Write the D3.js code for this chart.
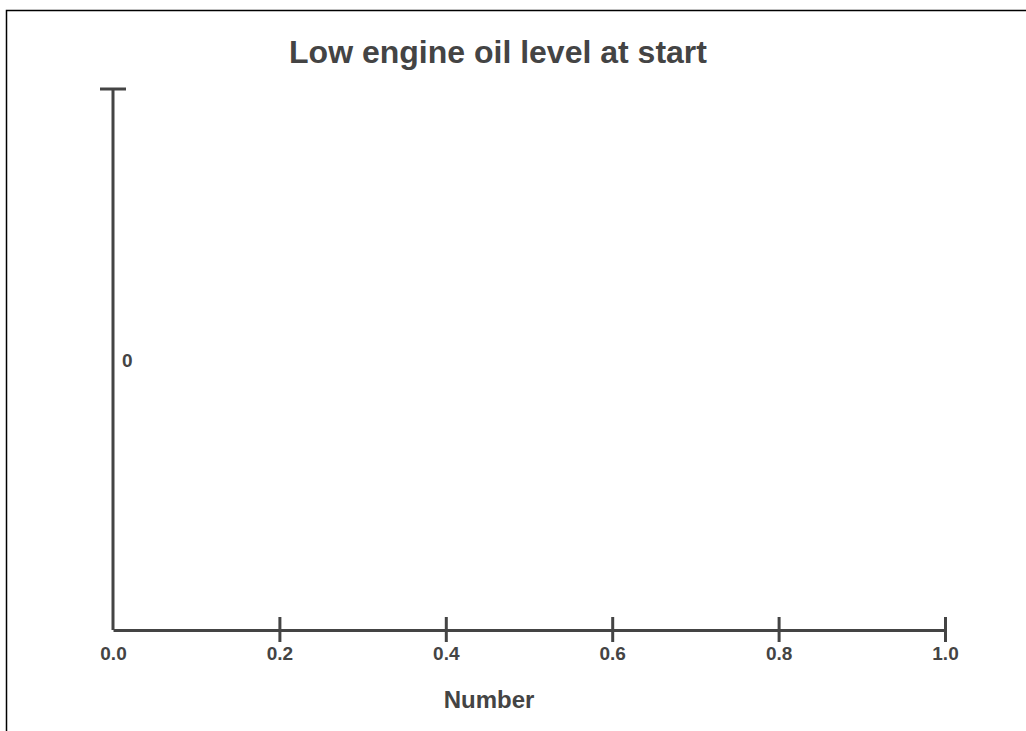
<!DOCTYPE html>
<html>
<head>
<meta charset="utf-8">
<script src="https://cdn.jsdelivr.net/npm/d3@7/dist/d3.min.js"></script>
<style>
  html, body { margin: 0; padding: 0; background: #fff; }
  svg { display: block; }
  text { font-family: "Liberation Sans", Arial, Helvetica, sans-serif; font-weight: bold; fill: #444; }
</style>
</head>
<body>
<svg id="chart" width="1026" height="731"></svg>
<script>
// ---- data ----
const title = "Low engine oil level at start";
const xLabel = "Number";
const categories = ["0"];
const values = [0];
const xDomain = [0, 1];
const xTickValues = [0, 0.2, 0.4, 0.6, 0.8, 1.0];

// ---- layout ----
const svg = d3.select("#chart");
const W = 1026, H = 731;
const mLeft = 113, mRight = 945, mTop = 89, mBottom = 630;
const ink = "#444";

// frame
svg.append("rect").attr("x", 6.5).attr("y", 10.5)
  .attr("width", W).attr("height", H)
  .attr("fill", "none").attr("stroke", "#000").attr("stroke-width", 1.5);

const x = d3.scaleLinear().domain(xDomain).range([mLeft, mRight]);
const y = d3.scaleBand().domain(categories).range([mTop, mBottom]).padding(0.2);

// bars (zero-length)
svg.append("g").selectAll("rect").data(values).join("rect")
  .attr("x", x(0))
  .attr("y", (d, i) => y(categories[i]))
  .attr("width", d => x(d) - x(0))
  .attr("height", y.bandwidth())
  .attr("fill", "#4a7ab5");

// x axis
const xAxis = d3.axisBottom(x).tickValues(xTickValues)
  .tickFormat(d3.format(".1f")).tickSizeInner(12).tickSizeOuter(0).tickPadding(5);
const gx = svg.append("g").attr("transform", `translate(0,${mBottom})`).call(xAxis);
gx.select(".domain").attr("stroke", ink).attr("stroke-width", 3);
gx.selectAll(".tick line").attr("stroke", ink).attr("stroke-width", 3)
  .attr("y1", -13).attr("y2", 12)
  .style("display", d => d === 0 ? "none" : null);
gx.selectAll(".tick text").attr("font-size", 19).attr("fill", ink)
  .style("font-family", '"Liberation Sans", Arial, sans-serif').style("font-weight", "bold");

// y axis
const yAxis = d3.axisRight(y).tickSize(0).tickPadding(9);
const gy = svg.append("g").attr("transform", `translate(${mLeft},0)`).call(yAxis);
gy.select(".domain").remove();
gy.append("path").attr("d", `M-13,${mTop}H13M0,${mTop}V${mBottom}`)
  .attr("fill", "none").attr("stroke", ink).attr("stroke-width", 3);
gy.selectAll(".tick text").attr("font-size", 19).attr("fill", ink)
  .attr("dy", "0.4em")
  .style("font-family", '"Liberation Sans", Arial, sans-serif').style("font-weight", "bold");

// title
svg.append("text").attr("x", 498).attr("y", 63).attr("text-anchor", "middle")
  .attr("font-size", 32).text(title);

// x label
svg.append("text").attr("x", 489).attr("y", 708).attr("text-anchor", "middle")
  .attr("font-size", 24).text(xLabel);
</script>
</body>
</html>
